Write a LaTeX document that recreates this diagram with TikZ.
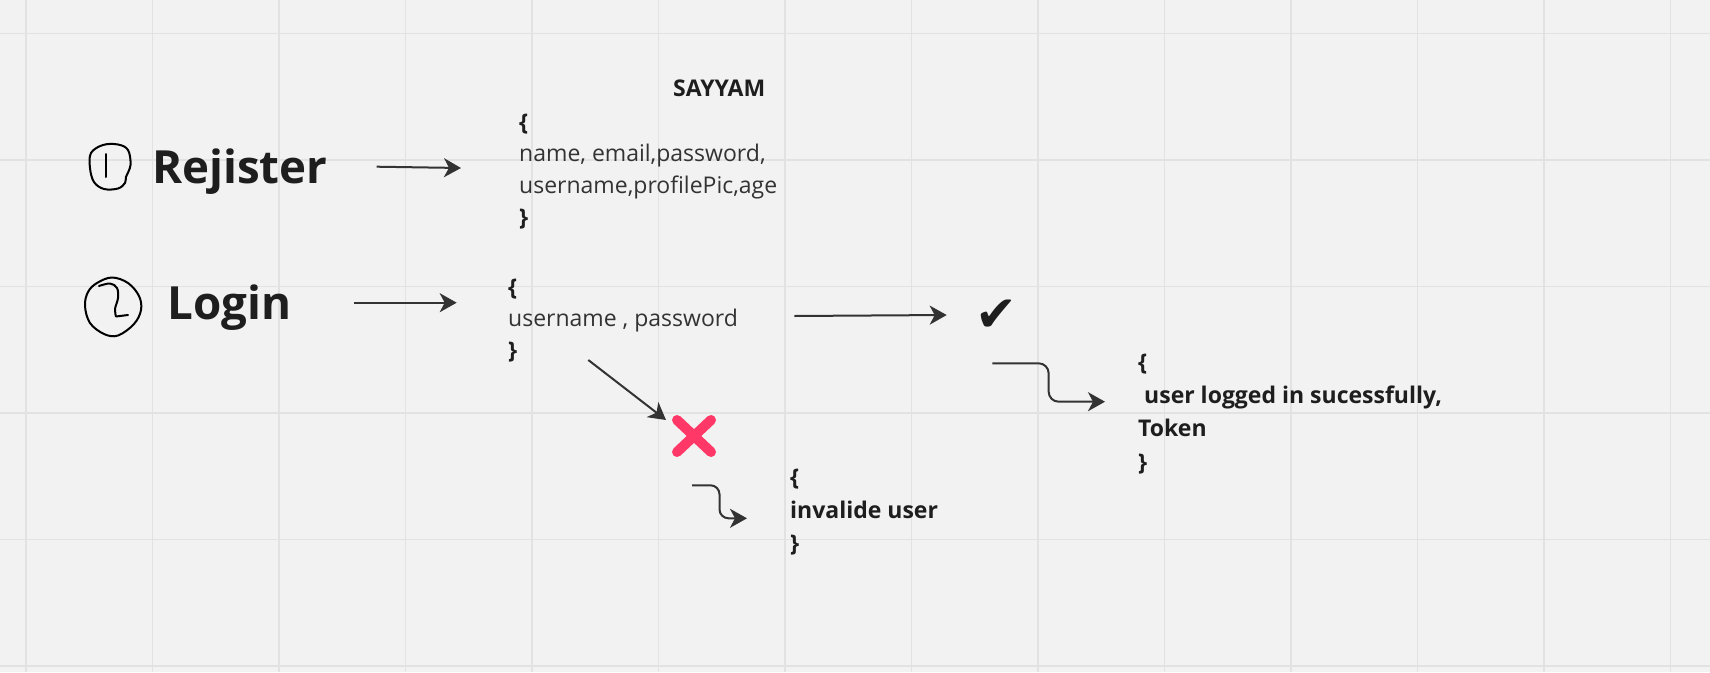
\documentclass[tikz,border=0pt]{standalone}
\usepackage{fontspec}
\setmainfont{Open Sans}
\newfontfamily\symfont{DejaVu Sans}
\usetikzlibrary{arrows.meta,calc}
\definecolor{bg}{HTML}{F2F2F2}
\definecolor{gridc}{HTML}{E2E2E2}
\definecolor{ink}{HTML}{333333}
\definecolor{txt}{HTML}{1E1E1E}
\definecolor{xred}{HTML}{FF3868}
\begin{document}
\begin{tikzpicture}[x=1pt,y=-1pt,
  arr/.style={draw=ink, line width=2pt, -{Stealth[length=17pt,width=19pt,inset=5pt]}},
  big/.style={anchor=base west, inner sep=0pt, font=\fontsize{45.7}{50}\selectfont\bfseries, text=txt},
  body/.style={anchor=base west, inner sep=0pt, font=\fontsize{23}{30}\selectfont, text=ink},
  bodyb/.style={anchor=base west, inner sep=0pt, font=\fontsize{23}{30}\selectfont\bfseries, text=txt},
  hand/.style={draw=black, line width=2pt, line join=round, line cap=round},
  gridline/.style={draw=gridc, line width=1.5pt}]
\useasboundingbox (0,0) rectangle (1710,672);
\fill[bg] (0,0) rectangle (1710,672);
\foreach \i in {0,...,13} \draw[gridline] ({26+126.5*\i},0) -- ({26+126.5*\i},672);
\foreach \j in {0,...,5} \draw[gridline] (0,{33.5+126.5*\j}) -- (1710,{33.5+126.5*\j});

% hand-drawn numbers
\draw[hand] plot[smooth cycle, tension=0.6] coordinates {(103,145) (118,144.5) (128,150) (130.5,165) (126,177) (125,183) (118,188.5) (104,189) (94,182) (90,168) (91,153)};
\draw[hand] (106,154) -- (106,177);
\draw[hand] plot[smooth cycle, tension=0.6] coordinates {(97,283) (112,277.5) (128,283) (139,296) (141,310) (134,324) (118,335.5) (104,334) (90,323) (85,306) (88,292)};
\draw[hand] plot[smooth, tension=0.6] coordinates {(99,286) (110,283.5) (117,288) (118,298) (115,309) (116,316.5)} -- (128,315);

% titles
\node[big] (reg) at (152,183.3) {Rejister};
\node[big] (login) at (167.5,319) {Login};
\node[bodyb] (say) at (673,96.7) {SAYYAM};

% register body
\node[bodyb] (ro) at (519,130) {\{};
\node[body] (r1) at (519,161.7) {name, email,password,};
\node[body] (r2) at (519,193.3) {username,profilePic,age};
\node[bodyb] (rc) at (519,225) {\}};

% login body
\node[bodyb] (lo) at (508,295) {\{};
\node[body] (l1) at (508,326.7) {username , password};
\node[bodyb] (lc) at (508,358) {\}};

% check and cross
\node[font=\symfont\fontsize{50}{50}\selectfont, text=txt, inner sep=0pt] (ok) at (996,315.5) {✔};
\coordinate (fail) at (694,436);
\draw[xred, line width=10pt, line cap=round] (677,420) -- (711,452) (711,420) -- (677,452);

% invalid
\node[bodyb] (io) at (790,485.3) {\{};
\node[bodyb] (i1) at (790,518.3) {invalide user};
\node[bodyb] (ic) at (790,551.3) {\}};

% success
\node[bodyb] (so) at (1138,370) {\{};
\node[bodyb] (s1) at (1144,403.3) {user logged in sucessfully,};
\node[bodyb] (s2) at (1138,436.7) {Token};
\node[bodyb] (sc) at (1138,470) {\}};

% arrows
\coordinate (a1s) at (376.7,166.7); \coordinate (a1e) at (461,168);
\coordinate (a2s) at (354,302.7); \coordinate (a2e) at (456.7,302.7);
\coordinate (a3s) at (794.3,316); \coordinate (a3e) at (946.7,315);
\coordinate (a4s) at (588.3,360); \coordinate (a4e) at (666,420);
\coordinate (fs) at (692,485.3); \coordinate (fe) at (747,518.3);
\coordinate (ss) at (992.3,363.3); \coordinate (se) at (1105,401.7);
\draw[arr] (a1s) -- (a1e);
\draw[arr] (a2s) -- (a2e);
\draw[arr] (a3s) -- (a3e);
\draw[arr] (a4s) -- (a4e);
\coordinate (fm) at ($(fs)!0.5!(fe)$);
\coordinate (sm) at ($(ss)!0.5!(se)$);
\draw[arr, rounded corners=9pt] (fs) -- (fs -| fm) -- (fe -| fm) -- (fe);
\draw[arr, rounded corners=10pt] (ss) -- (ss -| sm) -- (se -| sm) -- (se);
\end{tikzpicture}
\end{document}
